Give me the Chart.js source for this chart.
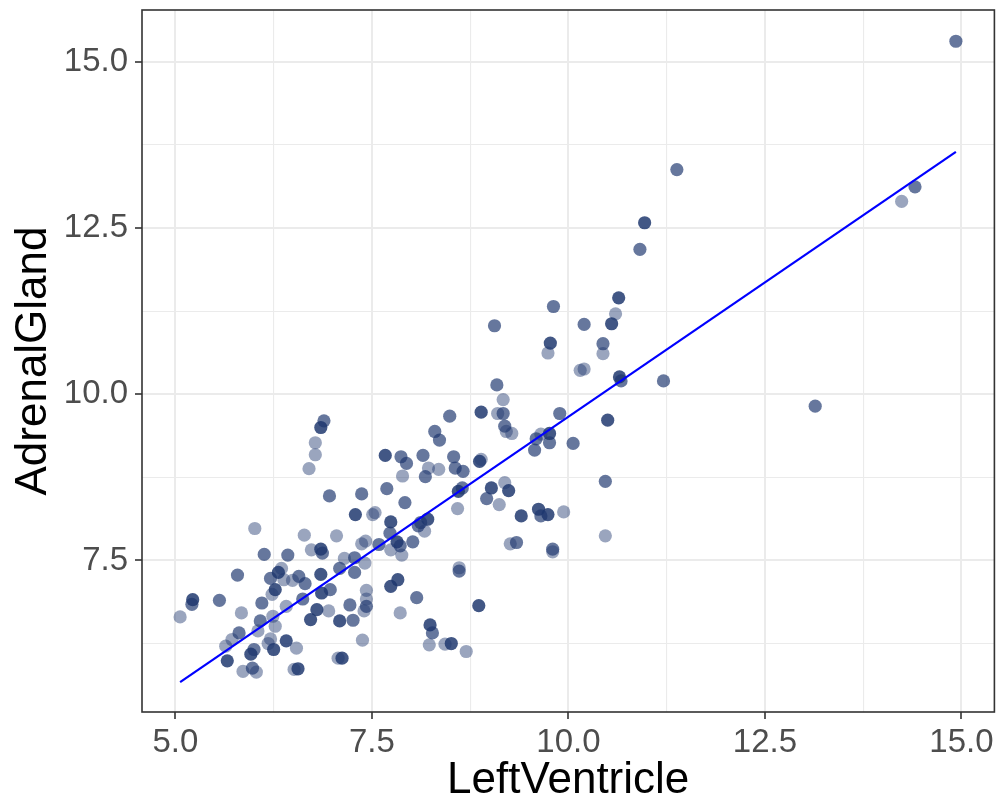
<!DOCTYPE html>
<html>
<head>
<meta charset="utf-8">
<script src="https://cdn.jsdelivr.net/npm/chart.js@4"></script>
<style>
  html, body { margin: 0; padding: 0; background: #ffffff; }
  #wrap { width: 1001px; height: 805px; }
</style>
</head>
<body>
<div id="wrap"><canvas id="c" width="1001" height="805"></canvas></div>
<script>
// ---- data (LeftVentricle, AdrenalGland) ----
const lightPoints = [
  [6.01,7.98],[6.64,7.88],[6.73,7.66],[6.35,7.38],[6.38,7.21],[6.49,7.20],[6.23,6.99],[6.41,6.81],
  [5.84,6.71],[5.06,6.65],[6.24,6.66],[6.27,6.51],[6.05,6.44],[5.72,6.31],[5.64,6.21],[6.21,6.32],
  [6.18,6.25],[6.54,6.18],[5.86,5.83],[6.03,5.82],[6.51,5.86],
  [7.89,8.77],[8.59,8.28],[7.51,8.19],[7.54,8.22],[8.17,7.94],[7.05,7.87],[7.42,7.79],[7.37,7.75],
  [7.74,7.66],[7.88,7.58],[7.15,7.53],[7.41,7.46],[7.43,7.05],[7.43,6.92],[7.40,6.74],[6.95,6.74],
  [7.86,6.71],[8.23,6.23],[8.43,6.24],[8.70,6.13],[8.61,7.39],[7.38,6.30],[7.07,6.03],
  [6.78,9.27],[6.78,9.09],[6.70,8.88],[8.22,8.89],[8.35,8.87],
  [10.60,11.21],[9.74,10.62],[10.44,10.61],[10.15,10.36],[10.20,10.38],[9.17,9.92],[9.10,9.71],
  [9.21,9.44],[9.28,9.41],[9.65,9.40],[8.89,9.02],[9.19,8.67],[9.12,8.34],[9.94,8.23],[10.47,7.87],
  [9.26,7.75],[9.80,7.63],[14.24,12.90]
];
const midPoints = [
  [6.13,7.59],[6.43,7.58],[5.79,7.28],[6.21,7.23],[6.57,7.26],[6.65,7.15],[5.21,6.84],[5.56,6.90],
  [6.10,6.86],[6.62,6.92],[6.08,6.59],[5.81,6.41],[6.00,6.16],[5.98,5.88],
  [6.96,8.47],[7.37,8.50],[7.69,8.58],[8.18,8.76],[8.65,8.59],[7.92,8.37],[8.12,8.07],[8.09,8.02],
  [7.59,7.74],[7.73,7.91],[7.86,7.72],[8.02,7.78],[6.87,7.61],[7.28,7.54],[7.09,7.38],[7.28,7.32],
  [6.97,7.06],[7.43,6.81],[7.22,6.83],[7.26,6.60],[8.07,6.94],[8.27,6.41],[8.61,7.34],
  [6.89,9.60],[7.87,9.06],[7.94,8.96],[8.15,9.08],[8.49,9.67],[8.30,9.44],[8.36,9.31],[8.54,9.06],
  [8.56,8.89],[8.66,8.84],
  [9.81,11.32],[9.06,11.03],[10.20,11.05],[10.44,10.76],[10.67,10.20],[11.21,10.20],[9.09,10.14],
  [9.17,9.71],[9.19,9.52],[9.89,9.71],[9.59,9.33],[9.76,9.27],[9.57,9.16],[10.06,9.26],[8.96,8.43],
  [9.65,8.17],[10.47,8.69],[9.34,7.77],[9.80,7.67],
  [14.93,15.31],[11.38,13.38],[14.41,13.12],[10.91,12.18],[13.14,9.82]
];
const darkPoints = [
  [6.31,7.32],[6.27,7.06],[5.22,6.91],[6.72,6.61],[6.41,6.29],[6.25,6.16],[5.96,6.09],[5.66,5.99],
  [6.56,5.87],
  [8.60,8.54],[7.29,8.19],[7.74,8.08],[8.21,8.12],[7.82,7.78],[6.85,7.67],[6.85,7.29],[6.86,7.01],
  [6.80,6.76],[7.09,6.59],[7.83,7.21],[7.74,7.11],[8.24,6.53],[8.51,6.25],[7.12,6.03],
  [6.85,9.50],[7.67,9.08],
  [10.64,11.45],[10.55,11.06],[9.77,10.77],[10.65,10.26],[8.89,9.73],[10.50,9.61],[9.76,9.41],
  [8.87,8.99],[9.02,8.59],[9.24,8.55],[9.40,8.17],[9.62,8.27],[9.74,8.19],
  [10.97,12.58],[8.86,6.82]
];
// linear fit
const fitIntercept = 1.582;
const fitSlope = 0.808;
// axis ticks
const xMajorTicks = [5, 7.5, 10, 12.5, 15];
const xMinorTicks = [6.25, 8.75, 11.25, 13.75];
const yMajorTicks = [7.5, 10, 12.5, 15];
const yMinorTicks = [6.25, 8.75, 11.25, 13.75];
const xLabel = 'LeftVentricle';
const yLabel = 'AdrenalGland';

// ---- build chart ----
const toXY = arr => arr.map(p => ({x: p[0], y: p[1]}));
const allX = [...lightPoints, ...midPoints, ...darkPoints].map(p => p[0]);
const fitX0 = Math.min(...allX), fitX1 = Math.max(...allX);
const fitLine = [
  {x: fitX0, y: fitIntercept + fitSlope * fitX0},
  {x: fitX1, y: fitIntercept + fitSlope * fitX1}
];

const isMajor = (list, v) => list.some(t => Math.abs(t - v) < 1e-9);

const panelBorder = {
  id: 'panelBorder',
  afterDraw(chart) {
    const {ctx, chartArea: a} = chart;
    ctx.save();
    ctx.strokeStyle = '#333333';
    ctx.lineWidth = 1.6;
    ctx.strokeRect(a.left, a.top, a.right - a.left, a.bottom - a.top);
    ctx.restore();
  }
};

const FONT = "'Liberation Sans', Arial, Helvetica, sans-serif";
const ptStyle = {pointRadius: 6.6, pointHoverRadius: 6.6, pointBorderWidth: 0, showLine: false, order: 1};

new Chart(document.getElementById('c'), {
  type: 'scatter',
  data: {
    datasets: [
      Object.assign({label: 'light', data: toXY(lightPoints), backgroundColor: 'rgba(30,55,110,0.45)'}, ptStyle),
      Object.assign({label: 'mid', data: toXY(midPoints), backgroundColor: 'rgba(30,55,110,0.68)'}, ptStyle),
      Object.assign({label: 'dark', data: toXY(darkPoints), backgroundColor: 'rgba(30,55,110,0.84)'}, ptStyle),
      {type: 'line', label: 'fit', data: fitLine, borderColor: '#0000ff', borderWidth: 2.2,
       pointRadius: 0, fill: false, order: 0}
    ]
  },
  options: {
    responsive: false,
    animation: false,
    devicePixelRatio: 1,
    layout: {padding: {top: 10, right: 5, left: 0, bottom: 0}},
    plugins: {legend: {display: false}, tooltip: {enabled: false}},
    scales: {
      x: {
        type: 'linear', min: 4.575, max: 15.42,
        afterBuildTicks: ax => { ax.ticks = [...xMajorTicks, ...xMinorTicks].sort((a,b)=>a-b).map(v => ({value: v})); },
        afterFit: ax => { ax.height = 93; ax.paddingLeft = 0; ax.paddingRight = 0; ax.paddingTop = 0; ax.paddingBottom = 0; },
        border: {display: false},
        grid: {
          color: '#ebebeb',
          lineWidth: c => isMajor(xMajorTicks, c.tick.value) ? 2 : 1.1,
          tickColor: c => isMajor(xMajorTicks, c.tick.value) ? '#333333' : 'rgba(0,0,0,0)',
          tickWidth: 1.6, tickLength: 7, drawTicks: true
        },
        ticks: {
          autoSkip: false, maxRotation: 0, padding: 4, color: '#4d4d4d',
          font: {family: FONT, size: 33},
          callback: v => isMajor(xMajorTicks, v) ? v.toFixed(1) : ''
        },
        title: {display: true, text: xLabel, color: '#000000', font: {family: FONT, size: 44, lineHeight: 1},
                padding: {top: 0, bottom: 2}}
      },
      y: {
        type: 'linear', min: 5.22, max: 15.78,
        afterBuildTicks: ax => { ax.ticks = [...yMajorTicks, ...yMinorTicks].sort((a,b)=>a-b).map(v => ({value: v})); },
        afterFit: ax => { ax.width = 142; ax.paddingLeft = 0; ax.paddingRight = 0; ax.paddingTop = 0; ax.paddingBottom = 0; },
        border: {display: false},
        grid: {
          color: '#ebebeb',
          lineWidth: c => isMajor(yMajorTicks, c.tick.value) ? 2 : 1.1,
          tickColor: c => isMajor(yMajorTicks, c.tick.value) ? '#333333' : 'rgba(0,0,0,0)',
          tickWidth: 1.6, tickLength: 7, drawTicks: true
        },
        ticks: {
          autoSkip: false, padding: 7, color: '#4d4d4d',
          font: {family: FONT, size: 33},
          callback: v => isMajor(yMajorTicks, v) ? v.toFixed(1) : ''
        },
        title: {display: true, text: yLabel, color: '#000000', font: {family: FONT, size: 44, lineHeight: 1},
                padding: {top: 12, bottom: 0}}
      }
    }
  },
  plugins: [panelBorder]
});
</script>
</body>
</html>
